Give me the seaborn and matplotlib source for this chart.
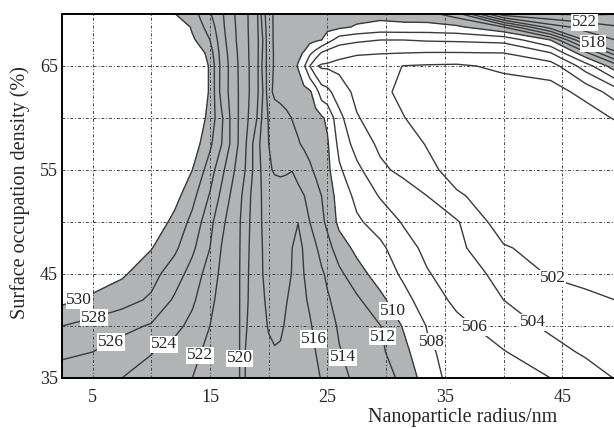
import numpy as np
import matplotlib
matplotlib.use("Agg")
import matplotlib.pyplot as plt
from matplotlib.ticker import MultipleLocator
import seaborn as sns


# nanoparticle radius (nm) - grid columns
radius = [2.4, 5, 7.5, 10, 12, 13.5, 15, 16, 17, 17.5, 18, 19, 19.5, 20, 20.5, 21, 21.5,
          22, 22.5, 23, 23.5, 24, 24.5, 25, 26, 27.5, 29.5, 31.5, 33.5, 36, 40, 44, 47, 50]

# surface occupation density (%) - grid rows
density = [35, 37.5, 40, 42.5, 45, 47.5, 50, 52.5, 55, 57.5, 60, 62.5, 65, 66.25, 67.5, 68.75, 70]

# peak wavelength (nm), one row per density value
z_35 = [525.3, 524.65, 524.0, 523.2, 522.5, 522.0, 521.3, 520.8, 520.33, 520.1, 518.0, 517.3, 517.0, 516.8, 516.7, 516.7, 516.8,
        516.9, 516.95, 516.8, 516.6, 516.35, 515.9, 515.45, 514.55, 513.6, 512.75, 511.6, 508.85, 507.2, 506.4, 506.0, 505.0, 503.7]
z_37 = [526.3, 526.0, 525.05, 524.1, 523.15, 522.4, 521.6, 521.0, 520.4, 520.1, 518.0, 517.0, 516.6, 516.25, 516.1, 516.15, 516.3,
        516.5, 516.6, 516.5, 516.3, 516.0, 515.55, 515.15, 514.1, 513.35, 512.4, 510.6, 508.3, 507.3, 506.1, 504.75, 503.7, 502.8]
z_40 = [528.0, 527.3, 526.6, 525.8, 524.6, 523.4, 522.0, 521.25, 520.45, 520.1, 518.2, 516.9, 516.35, 515.9, 515.7, 515.8, 516.15,
        516.4, 516.5, 516.4, 516.15, 515.7, 515.25, 514.7, 513.8, 513.05, 512.05, 509.8, 507.9, 506.55, 505.0, 503.6, 502.9, 502.6]
z_42 = [530.5, 529.6, 528.75, 527.7, 525.7, 524.35, 522.4, 521.4, 520.5, 520.1, 518.4, 516.8, 516.15, 515.7, 515.55, 515.65, 515.95,
        516.25, 516.35, 516.2, 515.8, 515.25, 514.7, 514.2, 513.4, 512.35, 510.5, 508.6, 507.05, 505.55, 504.0, 503.15, 502.5, 501.9]
z_45 = [532, 531.2, 530.3, 528.7, 526.95, 525.2, 523.05, 521.55, 520.6, 520.1, 518.55, 516.6, 516.0, 515.6, 515.4, 515.45, 515.7,
        516.05, 516.2, 516.0, 515.5, 514.9, 514.25, 513.7, 512.45, 510.8, 509.1, 507.65, 506.15, 505.05, 503.4, 501.8, 501.3, 501.0]
z_47 = [533, 532.5, 531.5, 530.1, 528.4, 526.4, 524.0, 521.9, 520.7, 520.15, 518.65, 516.7, 515.95, 515.6, 515.35, 515.3, 515.5,
        516.0, 516.3, 515.9, 514.95, 514.2, 513.4, 512.7, 511.0, 509.5, 508.4, 506.8, 505.5, 504.5, 502.2, 501.2, 500.9, 500.8]
z_50 = [534, 533.5, 533, 531.5, 529.4, 527.45, 524.6, 522.45, 520.9, 520.2, 518.9, 516.6, 515.85, 515.5, 515.3, 515.2, 515.35,
        515.7, 515.98, 514.9, 514.0, 513.2, 512.45, 511.55, 509.5, 508.3, 507.2, 505.8, 505.0, 504.2, 500.9, 500.6, 500.5, 500.5]
z_52 = [535, 534.5, 534, 532.5, 530.7, 528.6, 525.8, 523.5, 521.35, 520.5, 519.3, 516.5, 515.85, 515.6, 515.35, 515.1, 514.85,
        514.6, 514.35, 514.05, 513.45, 512.7, 512.0, 511.0, 509.25, 507.5, 505.85, 505.0, 504.0, 502.2, 501.2, 500.6, 500.4, 500.4]
z_55 = [536, 535.5, 535, 533.5, 531.8, 530.0, 527.0, 524.5, 522.2, 521.1, 520.0, 516.86, 515.55, 514.4, 513.7, 513.6, 513.8,
        513.97, 513.6, 512.9, 512.3, 511.7, 511.1, 510.5, 508.3, 506.5, 504.4, 503.5, 502.4, 501.4, 500.6, 500.3, 500.2, 500.3]
z_57 = [537, 536.5, 536, 534.5, 532.5, 531.2, 528.4, 526.0, 523.1, 521.7, 520.3, 516.7, 515.25, 514.0, 513.6, 513.25, 512.9,
        512.5, 512.15, 511.75, 511.4, 511.0, 510.6, 510.25, 507.45, 505.2, 503.6, 502.7, 501.9, 501.0, 500.4, 500.2, 500.2, 500.4]
z_60 = [538, 537.5, 537, 535.5, 533.5, 532, 529.3, 526.3, 523.0, 521.8, 520.7, 518.0, 515.5, 513.8, 513.3, 512.85, 512.4,
        511.95, 511.6, 511.3, 510.95, 510.6, 510.3, 509.6, 506.6, 504.15, 503.05, 502.05, 501.3, 500.8, 500.6, 500.7, 501.0, 502.4]
z_62 = [539, 538.5, 538, 536.5, 534.5, 533, 529.7, 525.2, 523.0, 521.8, 520.8, 518.5, 516.0, 512.8, 511.5, 511.3, 511.15,
        511.0, 510.8, 510.55, 510.3, 509.0, 506.9, 506.5, 505.0, 503.5, 502.4, 501.6, 501.1, 500.9, 501.0, 501.2, 502.6, 505.5]
z_65 = [540, 539.5, 539, 537.5, 535.5, 534, 529.6, 525.3, 523.0, 521.7, 520.7, 518.6, 515.5, 513.0, 511.75, 511.4, 511.1,
        510.6, 509.9, 508.3, 506.0, 504.2, 503.7, 503.7, 503.5, 503.1, 502.6, 501.95, 501.8, 501.7, 502.4, 503.0, 507.0, 512.0]
z_66 = [540.5, 540, 539.5, 538, 536, 532.5, 529.0, 525.1, 522.8, 521.6, 520.6, 518.6, 515.8, 512.8, 511.8, 511.5, 511.25,
        510.8, 510.3, 509.9, 508.4, 507.3, 505.8, 505.1, 504.5, 504.2, 504.1, 504.0, 503.9, 503.9, 504.0, 505.9, 511.5, 518.1]
z_67 = [541, 540.5, 540, 538.5, 536.5, 530.4, 528.0, 524.8, 522.5, 521.45, 520.55, 518.6, 516.0, 512.6, 511.8, 511.6, 511.4,
        511.2, 511.0, 510.8, 510.6, 510.3, 510.0, 508.9, 507.0, 506.4, 506.0, 506.0, 506.2, 506.3, 506.6, 510.0, 518.4, 520.3]
z_68 = [541.5, 541, 540.5, 539, 532.8, 529.6, 527.1, 524.5, 522.35, 521.4, 520.5, 518.5, 515.5, 512.55, 511.8, 511.6, 511.45,
        511.35, 511.2, 511.0, 510.9, 510.8, 510.8, 510.6, 510.4, 509.8, 509.3, 509.4, 509.3, 509.6, 512.0, 519.0, 520.8, 521.9]
z_70 = [542, 541.5, 541, 539.5, 530.05, 528.9, 526.2, 524.3, 522.2, 521.3, 520.5, 518.4, 515.0, 512.5, 511.8, 511.6, 511.5,
        511.4, 511.3, 511.2, 511.1, 511.0, 510.9, 510.85, 510.8, 510.7, 510.7, 511.0, 511.3, 513.0, 523.3, 524.0, 524.3, 524.0]

levels = [502, 504, 506, 508, 510, 512, 514, 516, 518, 520, 522, 524, 526, 528, 530]
shaded = [510, 530]

# where each contour label sits (data coords)
label_spots = [(530, 3.8, 42.7), (528, 5.1, 40.9), (526, 6.5, 38.6), (524, 11.3, 37.9),
               (522, 14.6, 37.0), (520, 17.7, 36.9), (516, 23.5, 38.7), (514, 26.4, 37.0),
               (512, 28.9, 38.8), (510, 30.2, 41.2), (508, 33.3, 38.2), (506, 37.1, 39.3),
               (504, 42.3, 40.1), (502, 44.2, 44.7), (522, 46.9, 69.2), (518, 47.6, 67.1)]


def put_label(ax, cs, lev, x, y, size):
    # project the requested spot onto that level's contour, in screen space
    i = list(cs.levels).index(lev)
    target = ax.transData.transform((x, y))
    best, best_d = None, np.inf
    for seg in cs.allsegs[i]:
        if len(seg) < 2:
            continue
        p = ax.transData.transform(seg)
        a, b = p[:-1], p[1:]
        ab = b - a
        t = ((target - a) * ab).sum(axis=1) / np.maximum((ab ** 2).sum(axis=1), 1e-12)
        t = np.clip(t, 0, 1)
        proj = a + ab * t[:, None]
        d = ((proj - target) ** 2).sum(axis=1)
        k = np.argmin(d)
        if d[k] < best_d:
            best_d, best = d[k], proj[k]
    if best is None:
        return
    px, py = ax.transData.inverted().transform(best)
    ax.text(px, py, f"{lev}", fontsize=size, ha="center", va="center",
            zorder=5, bbox=dict(boxstyle="square,pad=0.04", fc="white", ec="none"))


def main():
    sns.set_theme(style="white")
    plt.rcParams["font.family"] = ["Liberation Serif", "DejaVu Serif"]

    Z = np.array([z_35, z_37, z_40, z_42, z_45, z_47, z_50, z_52, z_55,
                  z_57, z_60, z_62, z_65, z_66, z_67, z_68, z_70])

    fig = plt.figure(figsize=(6.14, 4.29), dpi=100)
    ax = fig.add_axes([62 / 614, 51 / 429, 559 / 614, 364 / 429])

    ax.contourf(radius, density, Z, levels=shaded, colors=["#b2b3b5"], zorder=1)
    cs = ax.contour(radius, density, Z, levels=levels, colors="#3a3a3a",
                    linewidths=1.0, zorder=2)

    ax.set_xlim(2.4, 50)
    ax.set_ylim(35, 70)

    for n, (lev, x, y) in enumerate(label_spots):
        # the two corner labels sit stacked, keep them a touch smaller
        put_label(ax, cs, lev, x, y, 12.5 if n < len(label_spots) - 2 else 12)

    ax.set_xticks([5, 15, 25, 35, 45])
    ax.xaxis.set_minor_locator(MultipleLocator(5))
    ax.set_yticks([35, 45, 55, 65])
    ax.yaxis.set_minor_locator(MultipleLocator(5))

    ax.set_axisbelow("line")
    ax.grid(True, which="both", color="#444444", linewidth=0.7,
            linestyle=(0, (3, 2, 1, 2)))

    ax.tick_params(which="both", direction="in", length=4, width=1.2, color="black")
    ax.tick_params(axis="x", which="major", pad=8, labelsize=13)
    ax.tick_params(axis="y", which="major", pad=3, labelsize=13)
    for side in ["left", "bottom", "top", "right"]:
        ax.spines[side].set_color("black")
        ax.spines[side].set_linewidth(1.4)

    ax.set_xlabel("Nanoparticle radius/nm", fontsize=14.5)
    ax.set_ylabel("Surface occupation density (%)", fontsize=14.5)
    ax.xaxis.set_label_coords(0.717, -0.082)
    ax.xaxis.label.set_va("top")
    ax.yaxis.set_label_coords(-0.057, 0.51)

    fig.savefig("out.png", dpi=100)


if __name__ == "__main__":
    main()
